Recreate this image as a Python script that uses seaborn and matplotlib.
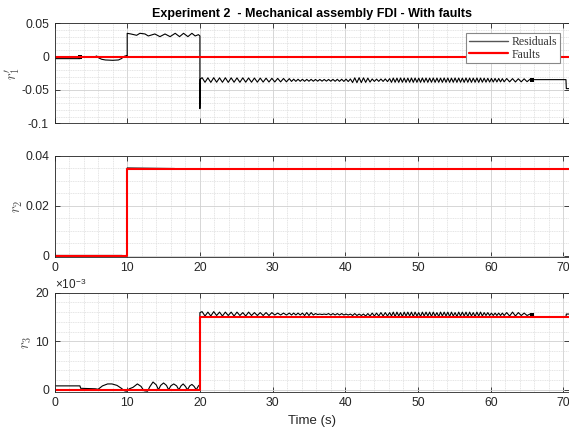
import numpy as np
import pandas as pd
import matplotlib
matplotlib.use("Agg")
import matplotlib.pyplot as plt
from matplotlib.lines import Line2D
from matplotlib.ticker import MultipleLocator
import seaborn as sns

# ---------------- data ----------------
x_ticks = [0, 10, 20, 30, 40, 50, 60, 70]
x_tick_labels = ["0", "10", "20", "30", "40", "50", "60", "70"]

# r1' residual, first 20 s
r1_pre_t = [0.0, 3.5, 3.55, 5.5, 5.8, 6.1, 6.5, 7.0, 8.0, 8.8, 9.2, 9.6, 9.9, 10.0,
            10.0, 10.5, 11.3, 11.75, 12.45, 12.9, 13.8, 14.5, 15.2, 15.9, 16.6, 17.2,
            17.75, 18.35, 18.9, 19.35, 19.8, 20.0, 20.0, 20.05]
r1_pre_v = [-0.003, -0.003, -0.0008, -0.0005, 0.001, -0.002, -0.004, -0.005, -0.0055, -0.005,
            -0.003, 0.0005, 0.0015, 0.001,
            0.035, 0.034, 0.032, 0.035, 0.034, 0.031, 0.034, 0.030, 0.034, 0.030, 0.035, 0.030,
            0.035, 0.030, 0.035, 0.031, 0.033, 0.031, -0.078, -0.034]

# times of ripple extrema after 20 s (shared by r1' and r3)
ripple_t = [
    20.3, 20.7, 21.1, 21.5, 21.9, 22.3, 22.7, 23.1, 23.5, 23.9,
    24.3, 24.7, 25.1, 25.5, 25.9, 26.3, 26.7, 27.1, 27.5, 27.9,
    28.3, 28.7, 29.1, 29.5, 29.9, 30.3, 30.7, 31.1, 31.5, 31.9, 32.3,
    32.6, 32.9, 33.2, 33.5, 33.8, 34.1, 34.4, 34.7, 35.0, 35.3,
    35.6, 35.9, 36.2, 36.5, 36.8, 37.1, 37.4, 37.7, 38.0, 38.3,
    38.6, 38.9, 39.2, 39.5, 39.8, 40.1, 40.4, 40.7,
    41.0, 41.3, 41.6, 41.9, 42.2, 42.5, 42.8, 43.1, 43.4,
    43.7, 44.0, 44.3, 44.6, 44.9, 45.2, 45.5, 45.8, 46.1,
    46.35, 46.6, 46.85, 47.1, 47.35, 47.6, 47.85, 48.1, 48.35, 48.6,
    48.85, 49.1, 49.35, 49.6, 49.85, 50.1, 50.35, 50.6, 50.85, 51.1,
    51.35, 51.6, 51.85, 52.1, 52.35, 52.6, 52.85, 53.1, 53.35, 53.6,
    53.85, 54.1, 54.35, 54.6, 54.85, 55.1, 55.35, 55.6, 55.85, 56.1,
    56.35, 56.6, 56.85, 57.1, 57.35, 57.6, 57.85, 58.1, 58.35, 58.6,
    58.85, 59.1, 59.35, 59.6, 59.85, 60.1, 60.35, 60.6, 60.85, 61.1,
    61.35, 61.6, 61.85,
    62.2, 62.6, 63.0, 63.4, 63.8, 64.2, 64.6, 65.0, 65.4]

r1_ripple = [
    -0.0315, -0.0385, -0.0318, -0.0386, -0.0316, -0.0384, -0.0318, -0.0385, -0.0317, -0.0386,
    -0.0318, -0.0384, -0.0319, -0.0385, -0.0318, -0.0383, -0.0320, -0.0384, -0.0321, -0.0383,
    -0.0322, -0.0382, -0.0323, -0.0381, -0.0325, -0.0380, -0.0326, -0.0379, -0.0328, -0.0378, -0.0330,
    -0.0372, -0.0338, -0.0371, -0.0339, -0.0370, -0.0340, -0.0370, -0.0341, -0.0369, -0.0341,
    -0.0369, -0.0342, -0.0368, -0.0342, -0.0368, -0.0342, -0.0368, -0.0342, -0.0369, -0.0341,
    -0.0370, -0.0340, -0.0371, -0.0339, -0.0372, -0.0337, -0.0374, -0.0335,
    -0.0388, -0.0318, -0.0390, -0.0316, -0.0389, -0.0318, -0.0386, -0.0322, -0.0382,
    -0.0335, -0.0372, -0.0337, -0.0371, -0.0336, -0.0372, -0.0334, -0.0375, -0.0330,
    -0.0386, -0.0321, -0.0385, -0.0322, -0.0386, -0.0320, -0.0385, -0.0321, -0.0386, -0.0322,
    -0.0385, -0.0320, -0.0386, -0.0321, -0.0385, -0.0322, -0.0386, -0.0320, -0.0385, -0.0321,
    -0.0386, -0.0322, -0.0385, -0.0320, -0.0386, -0.0321, -0.0385, -0.0322, -0.0386, -0.0320,
    -0.0385, -0.0321, -0.0386, -0.0322, -0.0385, -0.0320, -0.0386, -0.0321, -0.0385, -0.0322,
    -0.0386, -0.0320, -0.0385, -0.0321, -0.0386, -0.0322, -0.0385, -0.0320, -0.0386, -0.0321,
    -0.0384, -0.0323, -0.0383, -0.0325, -0.0382, -0.0326, -0.0381, -0.0327, -0.0380, -0.0328,
    -0.0379, -0.0330, -0.0378,
    -0.0328, -0.0378, -0.0330, -0.0380, -0.0332, -0.0378, -0.0333, -0.0376, -0.0340]

r1_post_t = [65.7, 70.35, 70.4, 71.0]
r1_post_v = [-0.0345, -0.0345, -0.0480, -0.0480]
r1_mark_t = [3.55, 65.7]
r1_mark_v = [-0.0008, -0.0345]

# r2 residual
r2_t = [0.0, 9.3, 9.5, 9.8, 10.0, 10.0, 16.5, 17.0, 71.0]
r2_v = [0.0002, 0.0002, -0.0003, 0.0002, 0.0002, 0.0352, 0.0350, 0.0347, 0.0347]

# r3 residual (x 1e-3)
r3_pre_t = [0.0, 3.5, 3.6, 5.6, 6.0, 6.6, 7.3, 7.9, 8.6, 9.2,
            9.6, 9.9, 10.3, 10.8, 11.4, 11.9, 12.3, 12.8, 13.1, 13.55,
            14.0, 14.3, 14.6, 15.0, 15.4, 15.7, 16.0, 16.4, 16.8, 17.1,
            17.4, 17.7, 18.0, 18.3, 18.6, 18.9, 19.2, 19.5, 19.8, 19.95, 20.0]
r3_pre_v = [0.8, 0.8, 0.3, 0.2, 0.1, 0.8, 1.2, 1.2, 0.9, 0.3,
            -0.2, -0.3, 0.2, 0.5, 1.2, 0.7, -0.2, -0.3, 0.6, 1.6,
            1.0, 0.0, 0.9, 1.4, 0.9, 0.0, 0.8, 1.2, 0.8, 0.0,
            0.8, 1.2, 0.7, 0.0, 0.8, 1.1, 0.7, 0.0, 0.8, 1.0, 15.9]
r3_ripple = [
    16.1, 15.2, 16.0, 15.2, 16.1, 15.3, 16.0, 15.2, 16.0, 15.3,
    16.0, 15.2, 16.0, 15.3, 15.9, 15.2, 16.0, 15.3, 15.9, 15.3,
    15.9, 15.3, 15.9, 15.3, 15.9, 15.4, 15.8, 15.4, 15.8, 15.4, 15.8,
    15.4, 15.8, 15.4, 15.8, 15.4, 15.8, 15.3, 15.9, 15.3, 15.9,
    15.4, 15.7, 15.5, 15.6, 15.5, 15.6, 15.5, 15.7, 15.4, 15.7,
    15.4, 15.7, 15.4, 15.7, 15.4, 15.6, 15.4, 15.6,
    15.3, 15.7, 15.3, 15.6, 15.3, 15.6, 15.2, 15.7, 15.2,
    15.8, 15.2, 15.8, 15.2, 15.9, 15.2, 15.9, 15.2, 15.9,
    15.2, 16.0, 15.1, 16.0, 15.2, 15.9, 15.1, 16.0, 15.2, 16.0,
    15.2, 16.0, 15.1, 16.0, 15.2, 15.9, 15.1, 16.0, 15.2, 16.0,
    15.2, 16.0, 15.1, 16.0, 15.2, 15.9, 15.1, 16.0, 15.2, 16.0,
    15.2, 16.0, 15.1, 16.0, 15.2, 15.9, 15.1, 16.0, 15.2, 16.0,
    15.2, 16.0, 15.1, 16.0, 15.2, 15.9, 15.1, 16.0, 15.2, 16.0,
    15.2, 15.9, 15.3, 15.9, 15.3, 15.8, 15.3, 15.8, 15.3, 15.8,
    15.3, 15.8, 15.3,
    15.9, 15.2, 16.0, 15.2, 15.9, 15.3, 15.8, 15.3, 15.6]
r3_post_t = [65.7, 65.8, 70.35, 70.4, 71.0]
r3_post_v = [15.4, 15.0, 15.0, 15.6, 15.6]
r3_mark_t = [65.7]
r3_mark_v = [15.4]

# faults
f1_t = [0.0, 71.0]
f1_v = [0.0, 0.0]
f2_t = [0.0, 10.0, 10.0, 71.0]
f2_v = [0.0, 0.0, 0.0347, 0.0347]
f3_t = [0.0, 20.0, 20.0, 71.0]
f3_v = [0.0, 0.0, 15.0, 15.0]

assert len(ripple_t) == len(r1_ripple) == len(r3_ripple), (len(ripple_t), len(r1_ripple), len(r3_ripple))

r1_t = r1_pre_t + ripple_t + r1_post_t
r1_v = r1_pre_v + r1_ripple + r1_post_v
r3_t = r3_pre_t + ripple_t + r3_post_t
r3_v = r3_pre_v + r3_ripple + r3_post_v

# ---------------- figure ----------------
sns.set_theme(style="white")
plt.rcParams['font.family'] = ['Liberation Sans', 'DejaVu Sans']
plt.rcParams['mathtext.fontset'] = 'cm'

W, H = 569, 429
fig = plt.figure(figsize=(W / 100, H / 100), dpi=100)
fig.patch.set_facecolor('white')

LEFT, RIGHT = 54.5, 568.5


def add_ax(top_px, bot_px):
    return fig.add_axes([LEFT / W, 1 - bot_px / H, (RIGHT - LEFT) / W, (bot_px - top_px) / H])


ax1 = add_ax(23.3, 123.3)
ax2 = add_ax(156.0, 256.7)
ax3 = add_ax(292.7, 391.7)

DARK = '#262626'


def style(ax, ylim, yticks, ylabels, yminor, show_x):
    ax.set_xlim(0, 70.7)
    ax.set_ylim(*ylim)
    ax.set_xticks(x_ticks)
    ax.set_xticklabels(x_tick_labels if show_x else [])
    ax.set_yticks(yticks)
    ax.set_yticklabels(ylabels)
    ax.xaxis.set_minor_locator(MultipleLocator(2))
    ax.yaxis.set_minor_locator(MultipleLocator(yminor))
    ax.grid(True, which='major', color='#d0d0d0', lw=0.6)
    ax.grid(True, which='minor', color='#dadada', lw=0.5, ls=(0, (1.5, 1)))
    ax.tick_params(which='major', direction='in', length=3.5, width=0.6, color=DARK,
                   top=True, right=True, bottom=True, left=True,
                   labelsize=8.8, labelcolor=DARK, pad=4)
    ax.tick_params(which='minor', length=0)
    for s in ax.spines.values():
        s.set_color(DARK)
        s.set_linewidth(0.6)
    ax.set_axisbelow(True)
    ax.set_facecolor('white')


def ylabel_at(ax, text, right_px):
    ax.set_ylabel(text, color='#505050', fontsize=10.5)
    ax.yaxis.set_label_coords((right_px - LEFT) / (RIGHT - LEFT), 0.5)


RES_LW = 0.8
FAULT_LW = 1.5

# Top panel
sns.lineplot(x=r1_t, y=r1_v, ax=ax1, color='black', lw=RES_LW, sort=False, estimator=None)
sns.scatterplot(x=r1_mark_t, y=r1_mark_v, ax=ax1, color='black', marker='s', s=5, linewidth=0)
sns.lineplot(x=f1_t, y=f1_v, ax=ax1, color='#ff0000', lw=FAULT_LW, sort=False, estimator=None)
style(ax1, (-0.1, 0.05), [-0.1, -0.05, 0, 0.05], ["-0.1", "-0.05", "0", "0.05"], 0.01, False)
ylabel_at(ax1, r"$r_1'$", 21.5)
ax1.set_title("Experiment 2  - Mechanical assembly FDI - With faults",
              fontweight='bold', fontsize=9.0, color='black', pad=4.5)
handles = [Line2D([0], [0], color='#555555', lw=1.0), Line2D([0], [0], color='#ff0000', lw=1.6)]
leg = ax1.legend(handles, ["Residuals", "Faults"], loc='upper right',
                 bbox_to_anchor=(560 / W, 1 - 33 / H), bbox_transform=fig.transFigure,
                 prop={'family': 'Liberation Serif', 'size': 8.5}, frameon=True, fancybox=False,
                 edgecolor='#888888', framealpha=1, borderpad=0.25, handlelength=3.3,
                 handletextpad=0.3, labelspacing=0.05, borderaxespad=0)
leg.get_frame().set_linewidth(0.8)
for txt in leg.get_texts():
    txt.set_color('#333333')

# Middle panel
sns.lineplot(x=r2_t, y=r2_v, ax=ax2, color='black', lw=RES_LW, sort=False, estimator=None)
sns.lineplot(x=f2_t, y=f2_v, ax=ax2, color='#ff0000', lw=FAULT_LW, sort=False, estimator=None)
style(ax2, (-0.0003, 0.04), [0, 0.02, 0.04], ["0", "0.02", "0.04"], 0.005, True)
ylabel_at(ax2, r"$r_2$", 25.0)

# Bottom panel
sns.lineplot(x=r3_t, y=r3_v, ax=ax3, color='black', lw=RES_LW, sort=False, estimator=None)
sns.scatterplot(x=r3_mark_t, y=r3_mark_v, ax=ax3, color='black', marker='s', s=5, linewidth=0)
sns.lineplot(x=f3_t, y=f3_v, ax=ax3, color='#ff0000', lw=FAULT_LW, sort=False, estimator=None)
style(ax3, (-0.4, 20.0), [0, 10, 20], ["0", "10", "20"], 2, True)
ylabel_at(ax3, r"$r_3$", 34.5)
ax3.set_xlabel("Time (s)", color=DARK, fontsize=9.5, labelpad=4)
fig.text(55 / W, 1 - 289 / H, r"×10$^{\mathregular{-3}}$", fontsize=8.5, color=DARK,
         ha='left', va='baseline')

fig.savefig("out.png", dpi=100, facecolor='white')
